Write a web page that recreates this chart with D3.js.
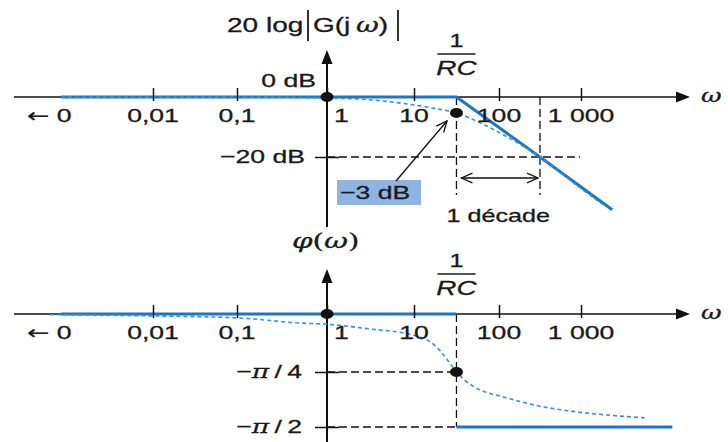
<!DOCTYPE html>
<html>
<head>
<meta charset="utf-8">
<script src="https://cdn.jsdelivr.net/npm/d3@7"></script>
<style>
  html, body { margin: 0; padding: 0; background: #fff; }
  svg { display: block; }
  text { font-family: "Liberation Sans", Arial, Helvetica, sans-serif; fill: #1a1a1a;
         stroke: #1a1a1a; stroke-width: 0.3; }
  .serif { font-family: "DejaVu Serif", "Liberation Serif", serif; font-style: italic; }
  .arrow { font-family: "DejaVu Sans", sans-serif; }
</style>
</head>
<body>
<script>
// Bode diagram of a first-order low-pass RC filter, G(jω) = 1 / (1 + jωRC)

// Decades marked on both ω axes
const decades = [0.01, 0.1, 1, 10, 100, 1000];
const decadeLabels = ["0,01", "0,1", "1", "10", "100", "1 000"];

// Corner pulsation 1/RC and one decade above it
const omegaC = 31.6;
const omegaDecade = 316;

// Gain, asymptotic diagram (ω, dB)
const gainAsymptote = [[0.0008, 0], [31.6, 0], [316, -20], [2400, -37.6]];
// Gain, real curve (ω, dB)
const gainReal = [[0.0008, 0], [0.1, 0], [1, -0.2], [3, -0.5], [10, -1.5], [20, -2.3],
                  [31.6, -3], [61, -6.9], [100, -10.5], [316, -20], [1000, -30.5], [2000, -36.5]];
const gainTicks = [-20];
const cornerGain = -3;

// Phase, asymptotic diagram (ω, degrees)
const phaseLow = [[0.0008, 0], [31.6, 0]];
const phaseHigh = [[31.6, -90], [13000, -90]];
// Phase, real curve (ω, degrees)
const phaseReal = [[0.0006, -0.5], [0.01, -1.5], [0.1, -3], [0.5, -7], [1, -8], [3, -11.5],
                   [10, -16.5], [15, -21], [20, -28], [25, -36], [31.6, -45], [40, -52],
                   [52, -57.5], [70, -61.5], [100, -64.5], [316, -73], [1000, -78], [6000, -82.5]];
const phaseTicks = [-45, -90];
const phaseTickDenoms = ["4", "2"];

const W = 728, H = 442;
const SX = 1.4;              // horizontal stretch of the lettering
const BLUE = "#1b76c6";
const BLUE_DASH = "#3a90d8";

const svg = d3.select("body").append("svg").attr("width", W).attr("height", H);

// Logarithmic pulsation axis (hand-spaced decades)
const x = d3.scaleLog().domain(decades).range([153, 237, 327, 414, 499, 581]);
const yGain = d3.scaleLinear().domain([0, -3, -20, -40]).range([97, 113, 157, 217]);
const yPhase = d3.scaleLinear().domain([0, -45, -90]).range([314, 372, 427]);

const x0 = x(1);
const xc = x(omegaC);

function label(parent, px, py, anchor, size, build) {
  const g = parent.append("g").attr("transform", `translate(${px},${py}) scale(${SX},1)`);
  const t = g.append("text").attr("text-anchor", anchor).attr("font-size", size);
  if (typeof build === "string") t.text(build); else build(t);
  return t;
}

function arrowHeadFilled(parent, tx, ty, dir) {
  const L = 14, h = 5.5;
  const pts = dir === "right"
    ? [[tx, ty], [tx - L, ty - h], [tx - L, ty + h]]
    : [[tx, ty], [tx - h, ty + L], [tx + h, ty + L]];
  parent.append("path").attr("d", d3.line()(pts) + "Z").attr("fill", "#111");
}

function openHead(parent, tx, ty, fx, fy) {
  const a = Math.atan2(ty - fy, tx - fx), L = 12, s = 0.42;
  const p1 = [tx - L * Math.cos(a - s), ty - L * Math.sin(a - s)];
  const p2 = [tx - L * Math.cos(a + s), ty - L * Math.sin(a + s)];
  parent.append("path").attr("d", d3.line()([p1, [tx, ty], p2]))
    .attr("fill", "none").attr("stroke", "#111").attr("stroke-width", 1.3);
}

const lineG = d3.line().x(d => x(d[0])).y(d => yGain(d[1]));
const lineP = d3.line().x(d => x(d[0])).y(d => yPhase(d[1]));

function panel(yZero, vTop, vBottom) {
  const g = svg.append("g");
  g.append("line").attr("x1", 14).attr("x2", 680).attr("y1", yZero).attr("y2", yZero)
    .attr("stroke", "#111").attr("stroke-width", 1.6);
  arrowHeadFilled(g, 690, yZero, "right");
  g.append("line").attr("x1", x0).attr("x2", x0).attr("y1", vBottom).attr("y2", vTop + 10)
    .attr("stroke", "#111").attr("stroke-width", 2);
  arrowHeadFilled(g, x0, vTop, "up");
  return g;
}

const guide = (g, x1, y1, x2, y2) => g.append("line")
  .attr("x1", x1).attr("y1", y1).attr("x2", x2).attr("y2", y2)
  .attr("stroke", "#111").attr("stroke-width", 1.3).attr("stroke-dasharray", "8,4");

function decadeTicks(g, yZero) {
  g.append("g").attr("transform", `translate(0,${yZero - 9})`)
    .call(d3.axisBottom(x).tickValues(decades).tickFormat("").tickSize(13).tickSizeOuter(0))
    .call(a => a.select(".domain").remove())
    .call(a => a.selectAll("line").attr("stroke", "#111").attr("stroke-width", 1.5));
}
function levelTicks(g, scale, values) {
  g.append("g").attr("transform", `translate(${x0 + 12},0)`)
    .call(d3.axisLeft(scale).tickValues(values).tickFormat("").tickSize(24).tickSizeOuter(0))
    .call(a => a.select(".domain").remove())
    .call(a => a.selectAll("line").attr("stroke", "#111").attr("stroke-width", 1.5));
}
const dot = (g, cx, cy) => g.append("ellipse").attr("cx", cx).attr("cy", cy)
  .attr("rx", 6.5).attr("ry", 5).attr("fill", "#111");

// ---------- Gain panel ----------
const gTop = panel(yGain(0), 50, 227);

guide(gTop, xc, yGain(0), xc, 195);
guide(gTop, x(omegaDecade), yGain(0), x(omegaDecade), 195);
guide(gTop, x0, yGain(-20), 580, yGain(-20));

gTop.append("path").datum(gainAsymptote).attr("d", lineG)
  .attr("fill", "none").attr("stroke", BLUE).attr("stroke-width", 3);
gTop.append("path").datum(gainReal).attr("d", lineG.curve(d3.curveMonotoneX))
  .attr("fill", "none").attr("stroke", BLUE_DASH).attr("stroke-width", 1.6)
  .attr("stroke-dasharray", "4,3");

decadeTicks(gTop, yGain(0));
levelTicks(gTop, yGain, gainTicks);
dot(gTop, x0, yGain(0));
dot(gTop, xc, yGain(cornerGain));

// ---------- Phase panel ----------
const gBot = panel(yPhase(0), 269, 442);

guide(gBot, xc, yPhase(0), xc, yPhase(-90));
phaseTicks.forEach(v => guide(gBot, x0, yPhase(v), xc, yPhase(v)));

gBot.append("path").datum(phaseLow).attr("d", lineP)
  .attr("fill", "none").attr("stroke", BLUE).attr("stroke-width", 3);
gBot.append("path").datum(phaseHigh).attr("d", lineP)
  .attr("fill", "none").attr("stroke", BLUE).attr("stroke-width", 3);
gBot.append("path").datum(phaseReal).attr("d", lineP.curve(d3.curveMonotoneX))
  .attr("fill", "none").attr("stroke", BLUE_DASH).attr("stroke-width", 1.6)
  .attr("stroke-dasharray", "4,3");

decadeTicks(gBot, yPhase(0));
levelTicks(gBot, yPhase, phaseTicks);
dot(gBot, x0, yPhase(0));
dot(gBot, xc, yPhase(-45));

// ---------- Lettering ----------
const T = svg.append("g");

// ω-axis tick labels on both panels
[yGain(0) + 25, yPhase(0) + 25].forEach(by => {
  label(T, 27, by, "start", 19, t => {
    t.append("tspan").attr("class", "arrow").text("←");
    t.append("tspan").text(" 0");
  });
  decades.forEach((d, i) => {
    if (d === 1) label(T, x0 + 7, by, "start", 19, decadeLabels[i]);
    else label(T, x(d), by, "middle", 19, decadeLabels[i]);
  });
});

// ω at the end of each axis
label(T, 701, yGain(0) + 5, "start", 18, t => t.attr("class", "serif").text("ω"));
label(T, 701, yPhase(0) + 5, "start", 18, t => t.attr("class", "serif").text("ω"));

// gain axis title: 20 log|G(jω)|
label(T, 227, 32, "start", 20, "20 log");
label(T, 313, 32, "start", 20, t => {
  t.append("tspan").text("G(j\u2009");
  t.append("tspan").attr("class", "serif").text("ω");
  t.append("tspan").text(")");
});
[308, 398].forEach(bx => T.append("line").attr("x1", bx).attr("x2", bx).attr("y1", 10).attr("y2", 41)
  .attr("stroke", "#1a1a1a").attr("stroke-width", 1.8));

// phase axis title: φ(ω)
label(T, 292, 248, "start", 21, t => {
  t.attr("class", "serif");
  t.append("tspan").text("φ");
  t.append("tspan").style("font-style", "normal").text("(");
  t.append("tspan").text("ω");
  t.append("tspan").style("font-style", "normal").text(")");
});

// gain levels
label(T, 316, 87, "end", 19, "0 dB");
label(T, 305, yGain(-20) + 6, "end", 19, "−20 dB");

// phase levels
phaseTicks.forEach((v, i) => {
  label(T, 302, yPhase(v) + 6, "end", 19, t => {
    t.append("tspan").text("−");
    t.append("tspan").attr("class", "serif").text("π");
    t.append("tspan").text("\u2009/\u2009" + phaseTickDenoms[i]);
  });
});

// 1/RC fractions
function fraction(yBar) {
  label(T, xc, yBar - 7, "middle", 18, "1");
  T.append("line").attr("x1", xc - 19).attr("x2", xc + 19).attr("y1", yBar).attr("y2", yBar)
    .attr("stroke", "#1a1a1a").attr("stroke-width", 1.5);
  label(T, xc, yBar + 21, "middle", 20, t => t.style("font-style", "italic").text("RC"));
}
fraction(54);
fraction(274);

// -3 dB callout
T.append("rect").attr("x", 337).attr("y", 180).attr("width", 84).attr("height", 25).attr("fill", "#8fb4e2");
label(T, 340, 199, "start", 19, "−3 dB");
T.append("line").attr("x1", 396).attr("y1", 181).attr("x2", 447).attr("y2", 121)
  .attr("stroke", "#111").attr("stroke-width", 1.3);
openHead(T, 447, 121, 396, 181);

// one-decade span
const yD = 178;
T.append("line").attr("x1", xc + 5).attr("x2", x(omegaDecade) - 2).attr("y1", yD).attr("y2", yD)
  .attr("stroke", "#111").attr("stroke-width", 1.3);
openHead(T, xc + 5, yD, xc + 30, yD);
openHead(T, x(omegaDecade) - 2, yD, x(omegaDecade) - 30, yD);
label(T, (xc + x(omegaDecade)) / 2, 222, "middle", 18, "1 décade");
</script>
</body>
</html>
